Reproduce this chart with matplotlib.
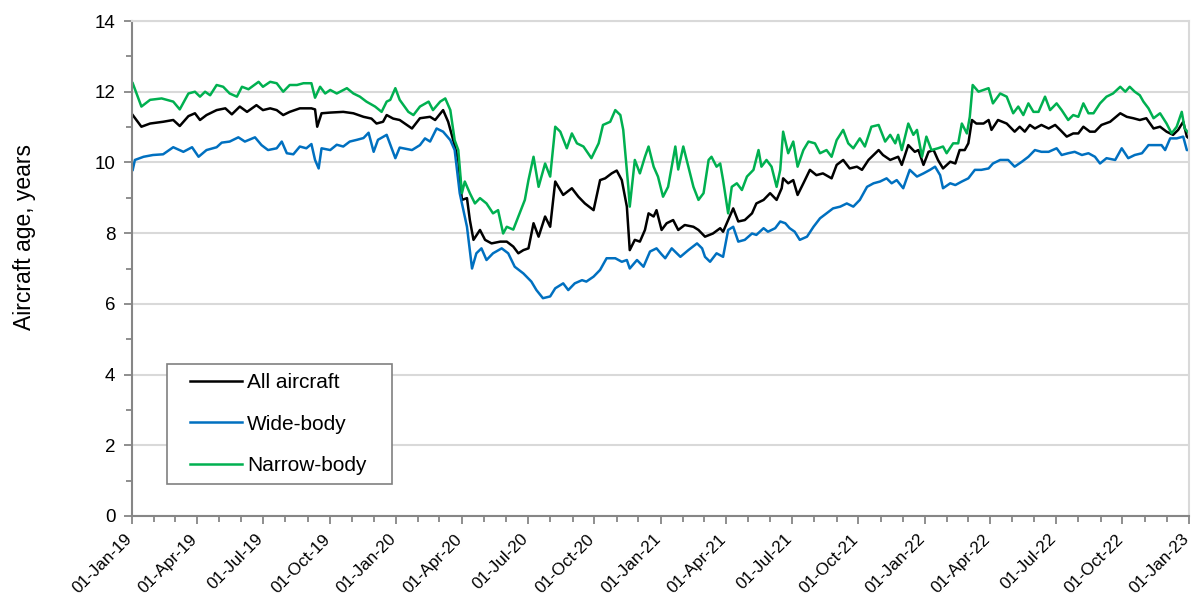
import numpy as np
import pandas as pd
import matplotlib
matplotlib.use("Agg")
import matplotlib.pyplot as plt
import matplotlib.dates as mdates
import matplotlib.transforms as mtransforms
from matplotlib.ticker import MultipleLocator
from matplotlib.patches import Rectangle

plt.rcParams['font.family'] = ['Liberation Sans', 'DejaVu Sans']

START = "2019-01-01"

# ---- All aircraft: days since 01-Jan-19, age in years ----
all_days = [1, 13, 25, 43, 57, 66, 78, 87, 94, 103, 117, 129, 138, 149, 159, 172, 181, 191, 200, 209,
            218, 232, 248, 253, 256, 262, 274, 292, 306, 320, 331, 338, 347, 352, 361, 370, 387, 398, 412, 419,
            430, 437, 444, 451, 456, 463, 467, 472, 481, 488, 497, 509, 518, 527, 534, 541, 548, 555, 562, 571,
            578, 585, 596, 608, 617, 626, 638, 647, 654, 663, 670, 677, 684, 688, 695, 702, 709, 714, 721, 725,
            732, 739, 748, 755, 764, 776, 783, 792, 803, 813, 817, 824, 831, 838, 847, 857, 863, 873, 882, 891,
            898, 900, 907, 914, 920, 928, 937, 946, 955, 967, 974, 983, 992, 1002, 1009, 1018, 1032, 1038, 1048, 1059,
            1064, 1073, 1082, 1087, 1094, 1101, 1108, 1114, 1121, 1131, 1138, 1144, 1151, 1156, 1161, 1167, 1177, 1184, 1188, 1197,
            1209, 1220, 1227, 1234, 1241, 1248, 1257, 1267, 1276, 1283, 1292, 1301, 1308, 1315, 1324, 1331, 1340, 1352, 1366, 1375,
            1384, 1393, 1402, 1412, 1421, 1430, 1439, 1446, 1453, 1458, 1461]
all_age = [11.34, 11.01, 11.10, 11.15, 11.20, 11.03, 11.31, 11.39, 11.20, 11.34, 11.48, 11.53, 11.36, 11.58, 11.43, 11.62, 11.48, 11.53, 11.48, 11.34,
           11.43, 11.53, 11.53, 11.50, 11.01, 11.39, 11.41, 11.43, 11.39, 11.29, 11.24, 11.10, 11.15, 11.34, 11.24, 11.20, 10.96, 11.25, 11.29, 11.20,
           11.48, 11.15, 10.63, 10.07, 8.94, 8.99, 8.37, 7.81, 8.09, 7.81, 7.71, 7.76, 7.76, 7.62, 7.43, 7.52, 7.57, 8.28, 7.90, 8.47,
           8.18, 9.46, 9.08, 9.27, 9.03, 8.84, 8.65, 9.50, 9.55, 9.69, 9.77, 9.50, 8.75, 7.52, 7.81, 7.76, 8.09, 8.56, 8.47, 8.65,
           8.09, 8.28, 8.37, 8.09, 8.23, 8.18, 8.09, 7.90, 7.99, 8.14, 8.04, 8.37, 8.70, 8.33, 8.37, 8.56, 8.84, 8.94, 9.13, 8.94,
           9.27, 9.55, 9.41, 9.50, 9.08, 9.41, 9.79, 9.64, 9.69, 9.55, 9.93, 10.07, 9.83, 9.88, 9.79, 10.07, 10.35, 10.21, 10.07, 10.16,
           9.93, 10.49, 10.30, 10.35, 9.93, 10.30, 10.35, 10.07, 9.83, 10.02, 9.97, 10.35, 10.35, 10.54, 11.20, 11.10, 11.10, 11.20, 10.92, 11.20,
           11.10, 10.87, 11.01, 10.87, 11.06, 10.96, 11.06, 10.96, 11.06, 10.92, 10.73, 10.82, 10.82, 11.01, 10.87, 10.87, 11.06, 11.15, 11.39, 11.29,
           11.25, 11.20, 11.25, 10.96, 11.01, 10.87, 10.78, 10.92, 11.15, 10.73, 10.68]

# ---- Wide-body ----
wide_days = [1, 4, 16, 29, 43, 57, 71, 83, 92, 103, 117, 124, 135, 147, 156, 170, 179, 188, 200, 207,
             214, 223, 232, 241, 248, 253, 258, 262, 274, 283, 292, 301, 311, 320, 327, 334, 340, 352, 364, 370,
             387, 398, 405, 412, 421, 430, 440, 446, 453, 463, 470, 476, 483, 490, 499, 511, 520, 529, 541, 552,
             559, 568, 578, 585, 596, 603, 612, 622, 628, 638, 647, 656, 668, 677, 684, 688, 698, 707, 716, 725,
             732, 737, 746, 758, 769, 781, 788, 792, 799, 808, 817, 824, 831, 838, 847, 857, 863, 873, 879, 889,
             896, 903, 909, 916, 923, 933, 942, 951, 960, 969, 979, 988, 997, 1006, 1016, 1025, 1034, 1043, 1050, 1057,
             1066, 1075, 1085, 1094, 1103, 1110, 1117, 1121, 1131, 1138, 1147, 1156, 1165, 1174, 1184, 1190, 1200, 1211, 1220, 1230,
             1239, 1248, 1257, 1267, 1278, 1285, 1294, 1303, 1313, 1322, 1331, 1338, 1347, 1359, 1368, 1377, 1386, 1396, 1405, 1414,
             1423, 1428, 1435, 1444, 1453, 1458, 1461]
wide_age = [9.79, 10.07, 10.16, 10.21, 10.23, 10.43, 10.30, 10.43, 10.16, 10.35, 10.43, 10.56, 10.59, 10.71, 10.59, 10.71, 10.49, 10.35, 10.40, 10.59,
            10.26, 10.23, 10.45, 10.40, 10.52, 10.07, 9.83, 10.40, 10.35, 10.50, 10.45, 10.59, 10.64, 10.69, 10.84, 10.30, 10.64, 10.78, 10.12, 10.42,
            10.35, 10.49, 10.68, 10.59, 10.96, 10.87, 10.63, 10.35, 9.13, 8.18, 7.00, 7.43, 7.57, 7.24, 7.43, 7.57, 7.43, 7.05, 6.86, 6.63,
            6.39, 6.16, 6.21, 6.44, 6.58, 6.39, 6.58, 6.67, 6.63, 6.77, 6.96, 7.29, 7.29, 7.19, 7.24, 7.00, 7.24, 7.05, 7.48, 7.57,
            7.40, 7.29, 7.57, 7.33, 7.52, 7.71, 7.57, 7.33, 7.19, 7.43, 7.33, 8.09, 8.18, 7.76, 7.81, 7.99, 7.95, 8.14, 8.04, 8.14,
            8.33, 8.28, 8.14, 8.04, 7.81, 7.90, 8.18, 8.42, 8.56, 8.70, 8.75, 8.84, 8.75, 8.94, 9.31, 9.41, 9.46, 9.55, 9.41, 9.50,
            9.27, 9.79, 9.60, 9.69, 9.79, 9.88, 9.64, 9.27, 9.41, 9.36, 9.46, 9.55, 9.79, 9.79, 9.83, 9.97, 10.07, 10.07, 9.88, 10.02,
            10.16, 10.35, 10.30, 10.30, 10.40, 10.21, 10.26, 10.30, 10.21, 10.26, 10.16, 9.97, 10.12, 10.07, 10.40, 10.12, 10.21, 10.26, 10.49, 10.49,
            10.49, 10.35, 10.68, 10.68, 10.73, 10.35, 10.35]

# ---- Narrow-body ----
narrow_days = [1, 13, 25, 41, 57, 66, 78, 87, 94, 101, 108, 117, 126, 135, 145, 152, 161, 175, 181, 191,
               200, 209, 218, 228, 237, 248, 253, 260, 267, 274, 283, 297, 306, 315, 324, 336, 345, 352, 357, 364,
               370, 382, 389, 398, 410, 416, 426, 433, 440, 446, 451, 456, 460, 467, 474, 481, 490, 499, 506, 513,
               518, 527, 534, 543, 548, 555, 562, 571, 578, 585, 592, 601, 608, 615, 624, 635, 645, 651, 661, 668,
               675, 679, 686, 688, 695, 702, 709, 714, 721, 727, 734, 741, 751, 755, 762, 769, 776, 783, 790, 797,
               801, 808, 813, 817, 824, 829, 836, 843, 850, 859, 866, 870, 877, 884, 891, 896, 900, 907, 914, 920,
               928, 935, 944, 951, 960, 967, 974, 983, 990, 997, 1006, 1013, 1022, 1032, 1041, 1048, 1055, 1059, 1064, 1073,
               1080, 1085, 1092, 1098, 1105, 1114, 1121, 1126, 1135, 1142, 1147, 1154, 1158, 1162, 1170, 1177, 1184, 1190, 1200, 1209,
               1218, 1225, 1232, 1239, 1246, 1253, 1262, 1269, 1278, 1285, 1294, 1301, 1308, 1315, 1322, 1329, 1338, 1347, 1356, 1366,
               1373, 1379, 1386, 1393, 1398, 1405, 1412, 1421, 1430, 1437, 1444, 1451, 1455, 1461]
narrow_age = [12.24, 11.58, 11.77, 11.81, 11.72, 11.50, 11.95, 12.00, 11.86, 12.00, 11.90, 12.19, 12.14, 11.95, 11.86, 12.14, 12.07, 12.28, 12.14, 12.28,
              12.24, 12.00, 12.19, 12.19, 12.24, 12.24, 11.83, 12.14, 11.95, 12.05, 11.95, 12.10, 11.95, 11.86, 11.72, 11.58, 11.43, 11.72, 11.77, 12.10,
              11.77, 11.43, 11.34, 11.58, 11.72, 11.48, 11.72, 11.81, 11.48, 10.63, 10.35, 9.13, 9.46, 9.13, 8.84, 8.99, 8.84, 8.56, 8.65, 7.99,
              8.18, 8.10, 8.47, 8.94, 9.50, 10.16, 9.31, 9.97, 9.60, 11.01, 10.87, 10.40, 10.82, 10.54, 10.45, 10.12, 10.54, 11.06, 11.15, 11.48,
              11.34, 10.92, 9.31, 8.75, 10.07, 9.69, 10.16, 10.45, 9.88, 9.60, 9.03, 9.31, 10.45, 9.80, 10.45, 9.88, 9.31, 8.94, 9.13, 10.07,
              10.16, 9.88, 9.97, 9.50, 8.56, 9.31, 9.41, 9.22, 9.60, 9.79, 10.35, 9.88, 10.07, 9.88, 9.31, 9.79, 10.87, 10.26, 10.59, 9.88,
              10.35, 10.59, 10.54, 10.26, 10.35, 10.16, 10.63, 10.92, 10.54, 10.40, 10.68, 10.45, 11.01, 11.06, 10.59, 10.78, 10.54, 10.78, 10.35, 11.10,
              10.78, 10.92, 10.16, 10.73, 10.35, 10.40, 10.45, 10.26, 10.54, 10.54, 11.10, 10.82, 11.29, 12.19, 12.00, 12.05, 12.10, 11.67, 11.95, 11.86,
              11.39, 11.58, 11.34, 11.67, 11.43, 11.43, 11.86, 11.48, 11.67, 11.48, 11.20, 11.34, 11.29, 11.67, 11.39, 11.39, 11.67, 11.86, 11.95, 12.14,
              12.00, 12.14, 12.00, 11.90, 11.72, 11.53, 11.25, 11.39, 11.10, 10.82, 11.01, 11.43, 10.96, 10.82]

series_names = ["All aircraft", "Wide-body", "Narrow-body"]
colors = ["#000000", "#0070C0", "#00B050"]

x_ticks = pd.date_range("2019-01-01", "2023-01-01", freq="QS")
y_label = "Aircraft age, years"


def to_dates(days):
    return pd.Timestamp(START) + pd.to_timedelta(np.array(days), unit="D")


W, H = 1193, 598
fig = plt.figure(figsize=(W / 100, H / 100), dpi=100)
ax = fig.add_axes([132 / W, 1 - 516 / H, (1189 - 132) / W, (516 - 21) / H])

for days, ages, name, c in zip([all_days, wide_days, narrow_days],
                               [all_age, wide_age, narrow_age], series_names, colors):
    ax.plot(to_dates(days), ages, color=c, lw=1.8, label=name, solid_joinstyle="round")

ax.set_xlim(pd.Timestamp("2019-01-01"), pd.Timestamp("2023-01-01"))
ax.set_ylim(0, 14)
ax.yaxis.set_major_locator(MultipleLocator(2))
ax.yaxis.set_minor_locator(MultipleLocator(1))
ax.set_xticks(x_ticks)
ax.xaxis.set_major_formatter(mdates.DateFormatter("%d-%b-%y"))
ax.xaxis.set_minor_locator(mdates.MonthLocator())

ax.grid(axis="y", which="major", color="#D9D9D9", lw=1.5)
ax.set_axisbelow(True)

for side in ["left", "bottom"]:
    ax.spines[side].set_color("#868686")
    ax.spines[side].set_linewidth(1.5)
for side in ["top", "right"]:
    ax.spines[side].set_color("#D9D9D9")
    ax.spines[side].set_linewidth(1.5)

ax.tick_params(axis="both", which="major", direction="out", length=6, width=1.3,
               color="#868686", labelcolor="#000000")
ax.tick_params(axis="both", which="minor", direction="out", length=4, width=1.3, color="#868686")
ax.tick_params(axis="y", labelsize=13.5, pad=6)
ax.tick_params(axis="x", labelsize=12.3, pad=9)
offset = mtransforms.ScaledTranslation(-2 / 100, 0, fig.dpi_scale_trans)
for lab in ax.get_xticklabels():
    lab.set_rotation(45)
    lab.set_ha("right")
    lab.set_va("center")
    lab.set_rotation_mode("anchor")
    lab.set_transform(lab.get_transform() + offset)

fig.text(25 / W, 1 - 237 / H, y_label, rotation=90, ha="center", va="center", fontsize=16.5)

# legend box
ax.add_patch(Rectangle(((167 - 132) / 1057, (516 - 484) / 495), (392 - 167) / 1057, (484 - 364) / 495,
                       transform=ax.transAxes, facecolor="white", edgecolor="#808080", lw=1.2, zorder=4))
leg = ax.legend(loc="upper left", bbox_to_anchor=((190 - 132) / 1057, (516 - 373) / 495), fontsize=15,
                frameon=False, borderpad=0, handlelength=2.5, handletextpad=0.25,
                labelspacing=1.08, borderaxespad=0)
leg.set_zorder(5)

fig.savefig("out.png", dpi=100)
